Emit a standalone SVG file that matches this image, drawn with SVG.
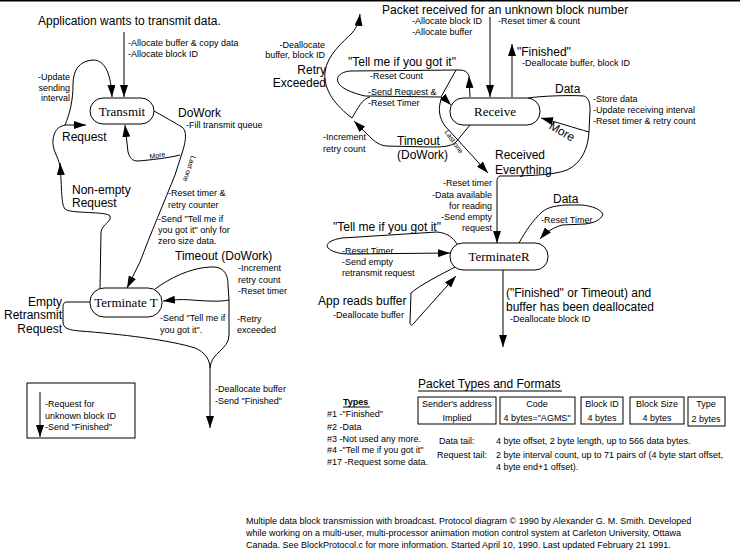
<svg xmlns="http://www.w3.org/2000/svg" width="740" height="555" viewBox="0 0 740 555">
<style>
.ln{fill:none;stroke:#000;stroke-width:1}
.ar{fill:none;stroke:#000;stroke-width:1;marker-end:url(#ah)}
.nb{fill:#fff;stroke:#000;stroke-width:1}
.nt{font-family:"Liberation Serif",serif;font-size:13px;text-anchor:middle}
.b{font-family:"Liberation Sans",Arial,sans-serif;font-size:12px}
.s{font-family:"Liberation Sans",Arial,sans-serif;font-size:9px}
.t{font-family:"Liberation Sans",Arial,sans-serif;font-size:7px}
.r{text-anchor:end}
.m{text-anchor:middle}
</style>
<defs>
<marker id="ah" viewBox="0 0 12 8" refX="12" refY="4" markerWidth="12" markerHeight="8" orient="auto" markerUnits="userSpaceOnUse">
<path d="M0,0 L12,4 L0,8 z" fill="#000"/>
</marker>
</defs>
<rect x="0" y="0" width="740" height="555" fill="#fff"/>
<rect x="0" y="0" width="740" height="1.5" fill="#000"/>

<g id="connectors">
<path class="ar" d="M124,32 L124,97"/>
<path class="ar" d="M65,125 C70,113 73,100 73,85 C73,70 79,61 93,60 C106,60 111,76 112,97"/>
<path class="ar" d="M100,288 L101,232 C102,224 112,222 110,216 C107,211 70,214 65,209 C61,204 62,190 60,163"/>
<path class="ar" d="M60,166 C58,156 52,150 53,140 C54,131 58,126 66,125 L86,125"/>
<path class="ln" d="M154,111 C165,117 175,123 182,127 C187,131 186,140 183,150 L175,175 C165,200 150,235 140,262"/>
<path class="ar" d="M140,262 L127,288"/>
<path class="ar" d="M180,155 C168,158 150,160 138,161 C132,161 130,158 128,152 L125,125"/>
<path class="ln" d="M155,289 C170,278 190,268 210,267 C222,266 228,272 228,285 L229,300"/>
<path class="ar" d="M229,300 C220,302 205,301 192,300 C180,299 172,300 163,301"/>
<path class="ar" d="M229,300 L229,335 C229,350 211,352 210,368 L210,428"/>
<path class="ln" d="M90,302 L67,302 C63,302 63,305 63,310 L63,322 C63,328 68,330 80,331 C120,334 170,340 195,348 C205,352 210,360 210,368"/>
<path class="ar" d="M490,17 L490,97"/>
<path class="ar" d="M512,97 L512,44"/>
<path class="ln" d="M528,98 C540,96 570,95 584,96 C589,98 590,103 590,110 L589,132"/>
<path class="ar" d="M589,132 C575,128 556,122 541,118"/>
<path class="ln" d="M589,132 C588,148 582,163 567,170 C552,176 520,176 500,176 C497,177 497,179 497,184"/>
<path class="ar" d="M497,184 L497,243"/>
<path class="ar" d="M441,100 C438,108 439,118 445,126 L488,173"/>
<path class="ar" d="M470,125 L456,142 C451,147 440,147 430,147 L386,146 C378,145 373,140 368,135 L354,121"/>
<path class="ar" d="M352,118 C336,106 323,90 325,72 C327,55 343,42 352,33 C357,27 359,22 360,14"/>
<path class="ln" d="M352,118 C358,108 362,99 370,97"/>
<path class="ar" d="M470,97 L469,76"/>
<path class="ar" d="M469,76 C467,71 464,70 458,70 L350,71 C340,72 336,77 338,82 C340,88 352,93 365,96 L440,97 C444,98 447,101 451,105"/>
<path class="ln" d="M441,97 L456,70"/>
<path class="ar" d="M519,243 C525,232 533,220 542,212 C548,207 555,206 565,205 L582,205 C592,206 600,209 603,214 C601,220 594,223 585,224 L562,225 C555,227 547,231 540,239"/>
<path class="ar" d="M457,244 C453,238 448,233 437,232 L342,238 C330,240 325,244 328,248 C332,252 340,254 350,254 L450,253"/>
<path class="ln" d="M457,266 C440,275 420,285 411,293 L410,322 C410,326 412,326 414,323"/>
<path class="ar" d="M414,323 L456,276"/>
<path class="ar" d="M503,270 L503,347"/>
<path class="ar" d="M40,392 L40,437"/>
</g>

<g id="transmit">
<rect class="nb" x="90" y="98" width="64" height="26" rx="13"/>
<text class="nt" x="122" y="116">Transmit</text>
</g>
<g id="terminate-t">
<rect class="nb" x="90" y="288" width="72" height="29" rx="14"/>
<text class="nt" x="126" y="307">Terminate T</text>
</g>
<g id="receive">
<rect class="nb" x="450" y="98" width="90" height="27" rx="13"/>
<text class="nt" x="495" y="116">Receive</text>
</g>
<g id="terminate-r">
<rect class="nb" x="450" y="243" width="98" height="27" rx="13"/>
<text class="nt" x="499" y="261">TerminateR</text>
</g>

<g id="labels-left">
<text class="b" x="38" y="25">Application wants to transmit data.</text>
<text class="s" x="128" y="46">-Allocate buffer &amp; copy data</text>
<text class="s" x="128" y="57">-Allocate block ID</text>
<text class="s r" x="70" y="80">-Update</text>
<text class="s r" x="70" y="91">sending</text>
<text class="s r" x="70" y="101">interval</text>
<text class="b" x="178" y="117">DoWork</text>
<text class="s" x="186" y="128">-Fill transmit queue</text>
<text class="b" x="62" y="141">Request</text>
<text class="t" transform="translate(150,159) rotate(-10)">More</text>
<text class="t m" transform="translate(187,168) rotate(108)">Last one</text>
<text class="b" x="72" y="194">Non-empty</text>
<text class="b" x="72" y="207">Request</text>
<text class="s" x="168" y="196">-Reset timer &amp;</text>
<text class="s" x="168" y="208">retry counter</text>
<text class="s" x="158" y="222">-Send "Tell me if</text>
<text class="s" x="158" y="233">you got it" only for</text>
<text class="s" x="158" y="244">zero size data.</text>
<text class="b" x="175" y="260">Timeout (DoWork)</text>
<text class="s" x="238" y="271">-Increment</text>
<text class="s" x="238" y="283">retry count</text>
<text class="s" x="238" y="294">-Reset timer</text>
<text class="b r" x="62" y="306">Empty</text>
<text class="b r" x="62" y="319">Retransmit</text>
<text class="b r" x="62" y="333">Request</text>
<text class="s" x="160" y="321">-Send "Tell me if</text>
<text class="s" x="160" y="333">you got it".</text>
<text class="s" x="237" y="322">-Retry</text>
<text class="s" x="237" y="333">exceeded</text>
<text class="s" x="215" y="392">-Deallocate buffer</text>
<text class="s" x="215" y="404">-Send "Finished"</text>
</g>

<g id="legend">
<rect class="ln" x="27" y="383" width="108" height="55"/>
<text class="s" x="45" y="407">-Request for</text>
<text class="s" x="45" y="419">unknown block ID</text>
<text class="s" x="45" y="430">-Send "Finished"</text>
</g>

<g id="labels-right">
<text class="b" x="382" y="14">Packet received for an unknown block number</text>
<text class="s" x="412" y="24">-Allocate block ID</text>
<text class="s" x="412" y="35">-Allocate buffer</text>
<text class="s" x="498" y="24">-Reset timer &amp; count</text>
<text class="b" x="517" y="56">"Finished"</text>
<text class="s" x="522" y="66">-Deallocate buffer, block ID</text>
<text class="s r" x="325" y="48">-Deallocate</text>
<text class="s r" x="325" y="58">buffer, block ID</text>
<text class="b r" x="326" y="74">Retry</text>
<text class="b r" x="326" y="87">Exceeded</text>
<text class="b" x="348" y="66">"Tell me if you got it"</text>
<text class="s" x="370" y="79">-Reset Count</text>
<text class="s" x="368" y="95">-Send Request &amp;</text>
<text class="s" x="368" y="106">-Reset Timer</text>
<text class="b" x="555" y="93">Data</text>
<text class="s" x="593" y="102">-Store data</text>
<text class="s" x="593" y="113">-Update receiving interval</text>
<text class="s" x="593" y="124">-Reset timer &amp; retry count</text>
<text class="b m" transform="translate(560,135) rotate(30)" font-size="10">More</text>
<text class="t m" transform="translate(452,143) rotate(55)">Last one</text>
<text class="s" x="323" y="140">-Increment</text>
<text class="s" x="323" y="152">retry count</text>
<text class="b" x="397" y="145">Timeout</text>
<text class="b" x="397" y="159">(DoWork)</text>
<text class="b" x="495" y="159">Received</text>
<text class="b" x="495" y="174">Everything</text>
<text class="s r" x="492" y="186">-Reset timer</text>
<text class="s r" x="492" y="198">-Data available</text>
<text class="s r" x="492" y="209">for reading</text>
<text class="s r" x="492" y="220">-Send empty</text>
<text class="s r" x="492" y="231">request</text>
<text class="b" x="553" y="203">Data</text>
<text class="s" x="541" y="223">-Reset Timer</text>
<text class="b" x="333" y="231">"Tell me if you got it"</text>
<text class="s" x="342" y="254">-Reset Timer</text>
<text class="s" x="342" y="265">-Send empty</text>
<text class="s" x="342" y="276">retransmit request</text>
<text class="b" x="318" y="305">App reads buffer</text>
<text class="s" x="333" y="318">-Deallocate buffer</text>
<text class="b" x="506" y="297">("Finished" or Timeout) and</text>
<text class="b" x="506" y="311">buffer has been deallocated</text>
<text class="s" x="510" y="322">-Deallocate block ID</text>
</g>

<g id="packet-formats">
<text class="b" x="418" y="388">Packet Types and Formats</text>
<line class="ln" x1="418" y1="391" x2="562" y2="391"/>
<text class="s" x="343" y="405" font-weight="bold">Types</text>
<line class="ln" x1="343" y1="407" x2="370" y2="407"/>
<text class="s" x="327" y="417">#1 -"Finished"</text>
<text class="s" x="327" y="430">#2 -Data</text>
<text class="s" x="327" y="442">#3 -Not used any more.</text>
<text class="s" x="327" y="453">#4 -"Tell me if you got it"</text>
<text class="s" x="327" y="465">#17 -Request some data.</text>
<rect class="ln" x="418" y="397" width="78" height="27"/>
<rect class="ln" x="500" y="397" width="75" height="27"/>
<rect class="ln" x="581" y="397" width="42" height="27"/>
<rect class="ln" x="630" y="397" width="54" height="27"/>
<rect class="ln" x="688" y="397" width="37" height="29"/>
<text class="s m" x="457" y="407">Sender's address</text>
<text class="s m" x="457" y="421">Implied</text>
<text class="s m" x="537" y="407">Code</text>
<text class="s m" x="537" y="421">4 bytes="AGMS"</text>
<text class="s m" x="602" y="407">Block ID</text>
<text class="s m" x="602" y="421">4 bytes</text>
<text class="s m" x="657" y="407">Block Size</text>
<text class="s m" x="657" y="421">4 bytes</text>
<text class="s m" x="706" y="407">Type</text>
<text class="s m" x="706" y="422">2 bytes</text>
<text class="s" x="439" y="444">Data tail:</text>
<text class="s" x="496" y="444">4 byte offset, 2 byte length, up to 566 data bytes.</text>
<text class="s" x="437" y="458">Request tail:</text>
<text class="s" x="496" y="458">2 byte interval count, up to 71 pairs of (4 byte start offset,</text>
<text class="s" x="496" y="470">4 byte end+1 offset).</text>
</g>

<g id="footer">
<text class="s" x="246" y="524">Multiple data block transmission with broadcast.  Protocol diagram © 1990 by Alexander G. M. Smith.  Developed</text>
<text class="s" x="246" y="536">while working on a multi-user, multi-processor animation motion control system at Carleton University, Ottawa</text>
<text class="s" x="246" y="548">Canada.  See BlockProtocol.c for more information.  Started April 10, 1990.  Last updated February 21 1991.</text>
</g>
</svg>
